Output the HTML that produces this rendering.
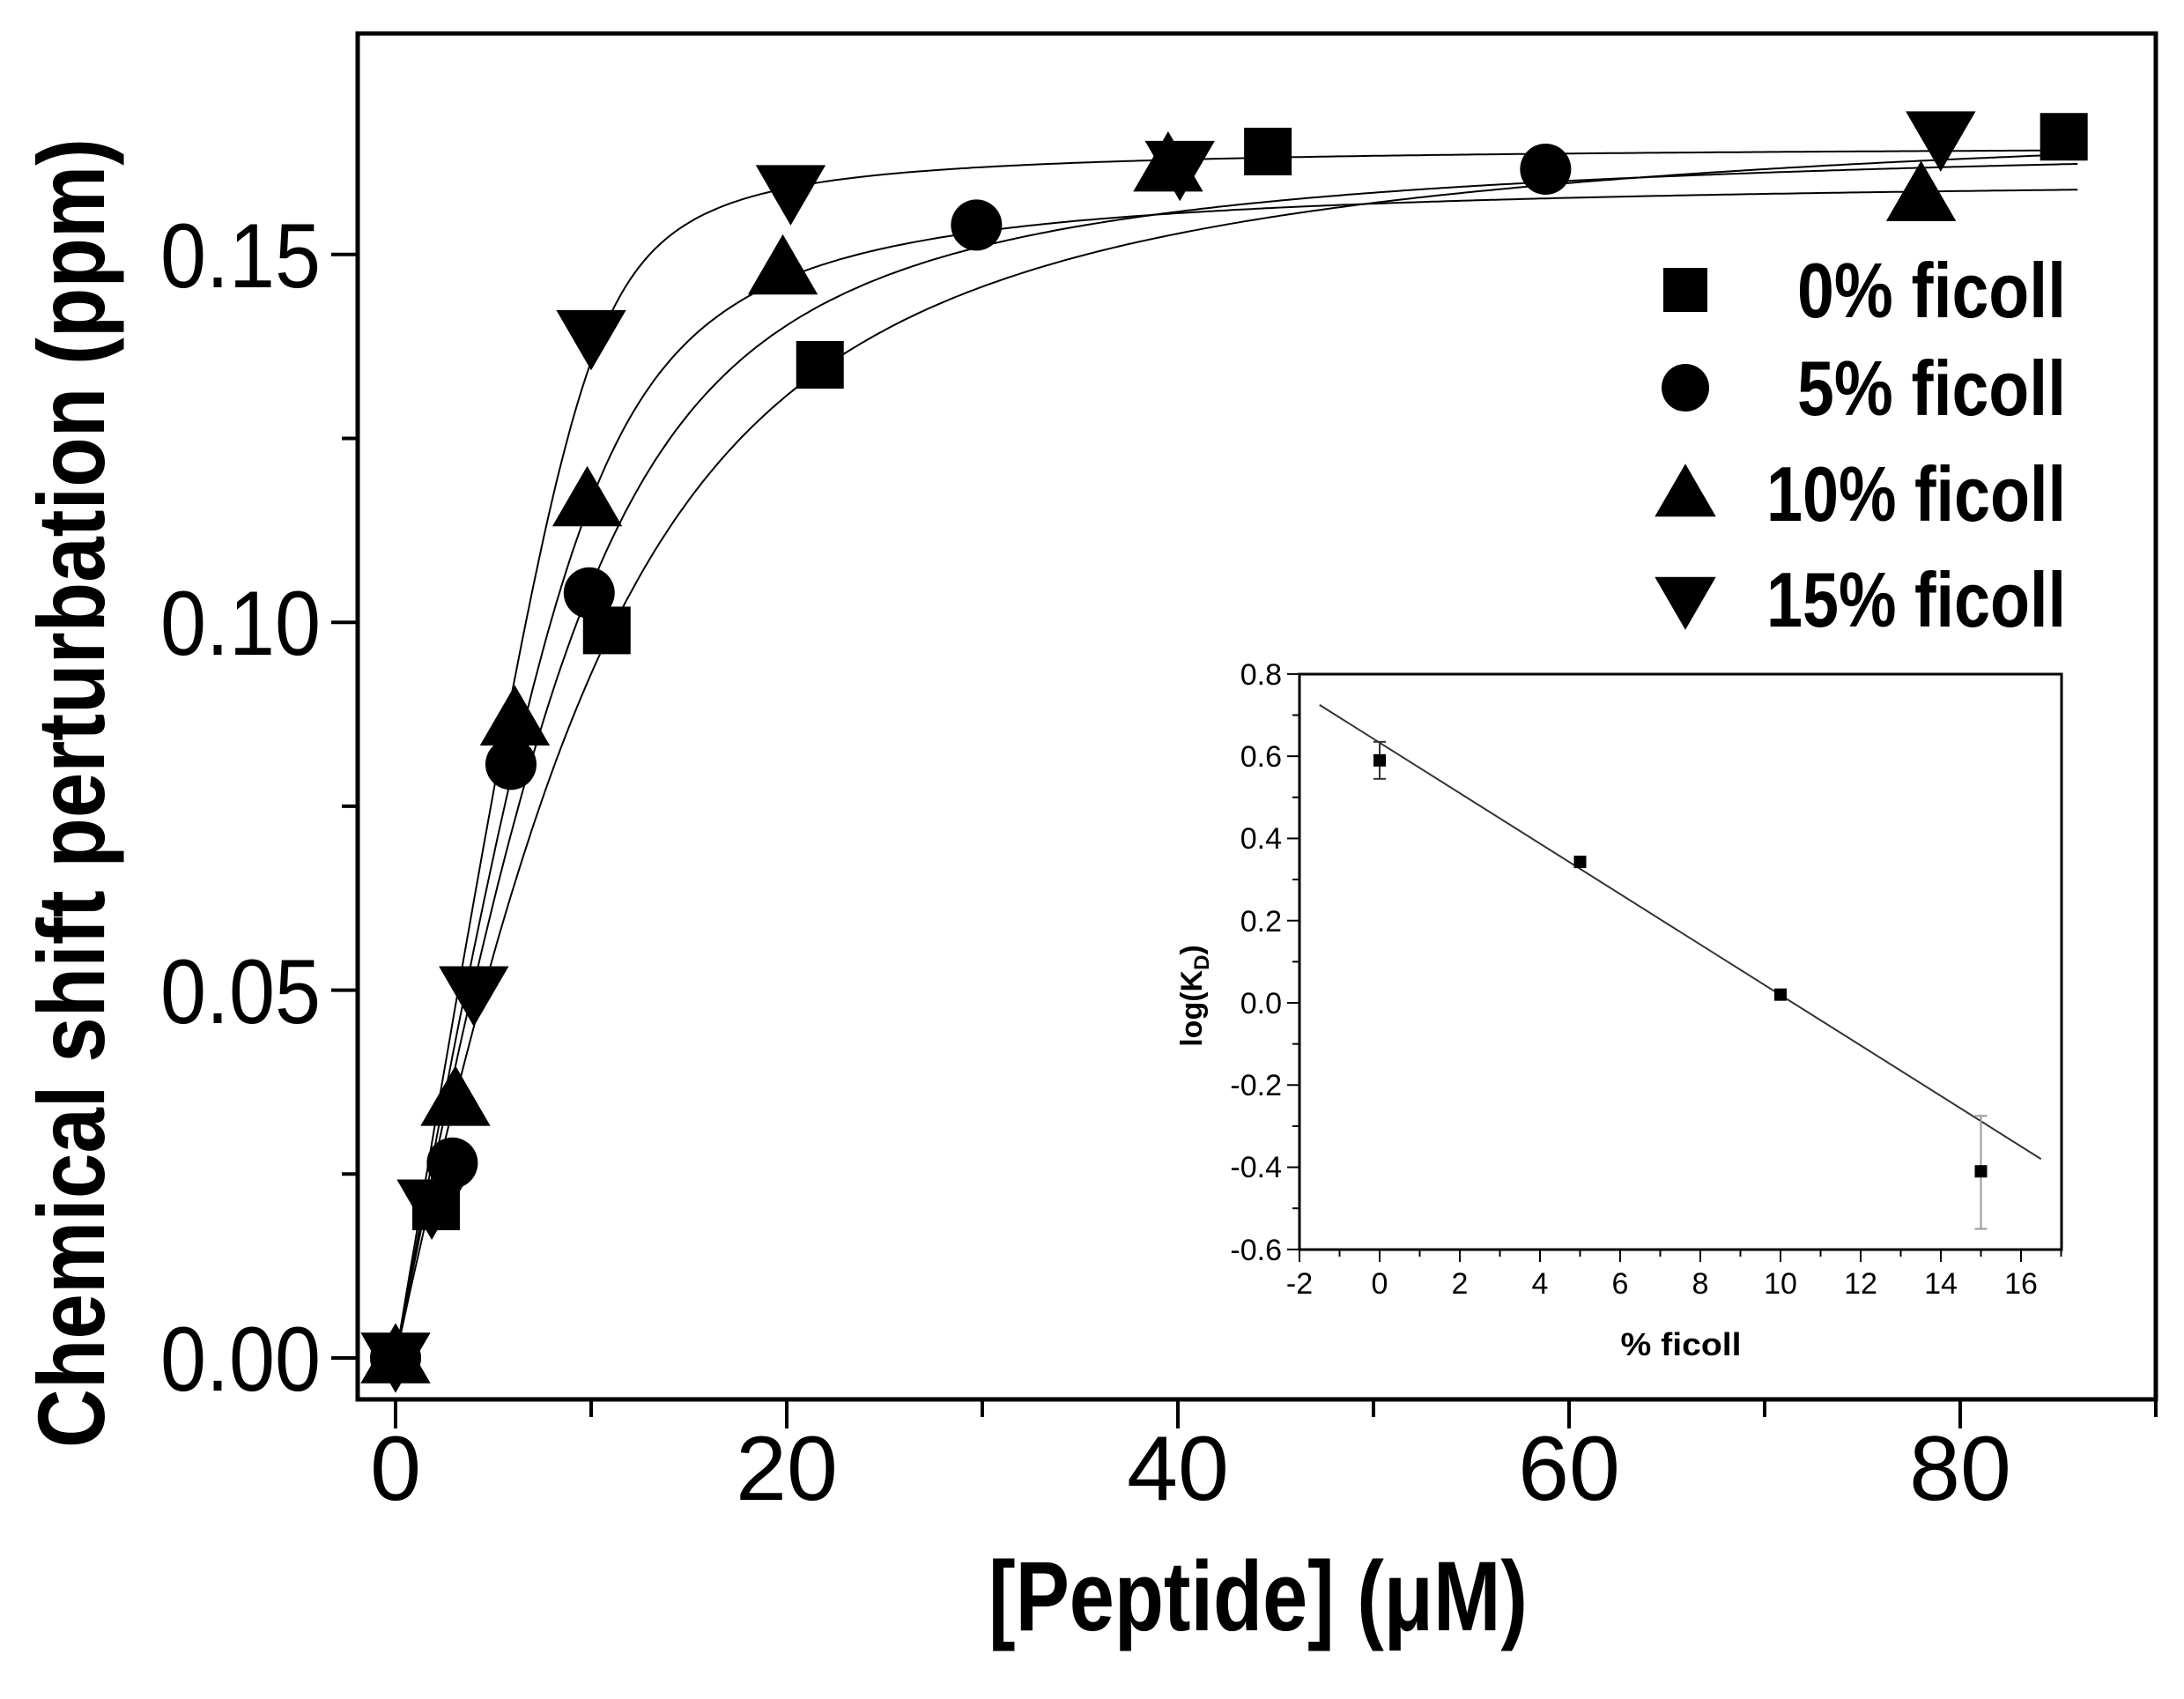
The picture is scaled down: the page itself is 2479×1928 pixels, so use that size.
<!DOCTYPE html>
<html><head><meta charset="utf-8"><style>
html,body{margin:0;padding:0;background:#fff;}
svg{display:block;}
text{font-family:"Liberation Sans Narrow","Liberation Sans",sans-serif;fill:#000;}
.b{font-family:"Liberation Sans",sans-serif;font-weight:bold;}
</style></head><body>
<svg id="s" width="2479" height="1928" viewBox="0 0 2479 1928" xmlns="http://www.w3.org/2000/svg">
<rect width="2479" height="1928" fill="#fff"/>
<g id="g"></g>
<rect x="406" y="38" width="2041" height="1550" fill="none" stroke="#000" stroke-width="5"/>
<g font-size="104">
<text x="449" y="1702" text-anchor="middle">0</text>
<text x="893" y="1702" text-anchor="middle">20</text>
<text x="1337" y="1702" text-anchor="middle">40</text>
<text x="1781" y="1702" text-anchor="middle">60</text>
<text x="2225" y="1702" text-anchor="middle">80</text>
<text id="t1" x="364" y="1578" text-anchor="end">0.00</text>
<text id="t2" x="364" y="1161" text-anchor="end">0.05</text>
<text id="t3" x="364" y="743" text-anchor="end">0.10</text>
<text id="t4" x="364" y="326" text-anchor="end">0.15</text>
</g>
<text id="xt" class="b" x="1428" y="1850" font-size="112" text-anchor="middle">[Peptide] (μM)</text>
<text id="yt" class="b" x="0" y="0" font-size="108" text-anchor="middle" transform="translate(118,900) rotate(-90)">Chemical shift perturbation (ppm)</text>
<g class="b" font-size="88">
<text id="l1" class="b" x="2345" y="360" text-anchor="end">0% ficoll</text>
<text id="l2" class="b" x="2345" y="471" text-anchor="end">5% ficoll</text>
<text id="l3" class="b" x="2345" y="591" text-anchor="end">10% ficoll</text>
<text id="l4" class="b" x="2345" y="711" text-anchor="end">15% ficoll</text>
</g>
<rect x="1475" y="765" width="865" height="653" fill="#fff" stroke="#000" stroke-width="3"/>
<g id="ins"></g>
<g font-size="34">
<text x="1475" y="1468" text-anchor="middle">-2</text>
<text x="1566" y="1468" text-anchor="middle">0</text>
<text x="1657" y="1468" text-anchor="middle">2</text>
<text x="1748" y="1468" text-anchor="middle">4</text>
<text x="1839" y="1468" text-anchor="middle">6</text>
<text x="1930" y="1468" text-anchor="middle">8</text>
<text x="2021" y="1468" text-anchor="middle">10</text>
<text x="2112" y="1468" text-anchor="middle">12</text>
<text x="2203" y="1468" text-anchor="middle">14</text>
<text x="2294" y="1468" text-anchor="middle">16</text>
<text x="1455" y="777" text-anchor="end">0.8</text>
<text x="1455" y="870" text-anchor="end">0.6</text>
<text x="1455" y="963" text-anchor="end">0.4</text>
<text x="1455" y="1057" text-anchor="end">0.2</text>
<text x="1455" y="1150" text-anchor="end">0.0</text>
<text x="1455" y="1243" text-anchor="end">-0.2</text>
<text x="1455" y="1336" text-anchor="end">-0.4</text>
<text x="1455" y="1430" text-anchor="end">-0.6</text>
</g>
<text id="it" class="b" x="1908" y="1538" font-size="36" text-anchor="middle">% ficoll</text>
<text class="b" x="0" y="0" font-size="34" text-anchor="middle" transform="translate(1364,1130) rotate(-90)">log(K<tspan font-size="24" dy="8">D</tspan><tspan dy="-8">)</tspan></text>
</svg>
<script>
var NS="http://www.w3.org/2000/svg",g=document.getElementById('g'),ins=document.getElementById('ins');
function el(p,t,a){var e=document.createElementNS(NS,t);for(var k in a)e.setAttribute(k,a[k]);p.appendChild(e);return e;}
function fit(id,w){var e=document.getElementById(id);e.setAttribute('textLength',w);e.setAttribute('lengthAdjust','spacingAndGlyphs');}
fit('xt',612);fit('yt',1486);fit('l1',305);fit('l2',305);fit('l3',340);fit('l4',340);fit('it',137);
['t1','t2','t3','t4'].forEach(function(i){fit(i,182);});
var X=function(v){return 449+v*22.2},Y=function(v){return 1541-v*8348};
for(var i=0;i<=9;i++){var x=X(i*10);el(g,'line',{x1:x,x2:x,y1:1588,y2:i%2?1608:1621,stroke:'#000','stroke-width':4});}
for(var i=0;i<=6;i++){var y=Y(i*0.025);el(g,'line',{x1:406,x2:i%2?388:376,y1:y,y2:y,stroke:'#000','stroke-width':4});}
var P=10,sets=[[3.9,0.172],[2.2,0.167],[1.05,0.161],[0.39,0.165]];
sets.forEach(function(s){var d='';for(var L=0;L<=86;L+=0.25){var a=P+L+s[0];var f=(a-Math.sqrt(a*a-4*P*L))/(2*P);d+=(L?'L':'M')+X(L).toFixed(1)+' '+Y(s[1]*f).toFixed(1);}el(g,'path',{d:d,fill:'none',stroke:'#000','stroke-width':2});});
function sq(x,y,s){el(g,'rect',{x:x-s/2,y:y-s/2,width:s,height:s,fill:'#000'});}
function ci(x,y,s){el(g,'circle',{cx:x,cy:y,r:s/2,fill:'#000'});}
function tu(x,y,s){el(g,'polygon',{points:(x-s*0.62)+','+(y+s*0.45)+' '+(x+s*0.62)+','+(y+s*0.45)+' '+x+','+(y-s*0.62),fill:'#000'});}
function td(x,y,s){el(g,'polygon',{points:(x-s*0.62)+','+(y-s*0.45)+' '+(x+s*0.62)+','+(y-s*0.45)+' '+x+','+(y+s*0.62),fill:'#000'});}
var d0=[[0,0],[2.07,0.0206],[10.8,0.0989],[21.7,0.135],[44.6,0.164],[85.3,0.166]];
var d1=[[0,0],[2.9,0.0265],[5.9,0.0807],[9.9,0.104],[29.7,0.154],[58.8,0.1616]];
var d2=[[0,0],[3.06,0.035],[6.1,0.0867],[9.8,0.1165],[19.8,0.148],[39.5,0.162],[78,0.158]];
var d3=[[0,0],[1.85,0.0208],[4,0.0498],[10,0.139],[20.2,0.1587],[40.1,0.162],[79,0.166]];
d0.forEach(function(p){sq(X(p[0]),Y(p[1]),54)});
d1.forEach(function(p){ci(X(p[0]),Y(p[1]),58)});
d2.forEach(function(p){tu(X(p[0]),Y(p[1]),64)});
d3.forEach(function(p){td(X(p[0]),Y(p[1]),64)});
sq(1913,329,50);ci(1913,440,54);tu(1913,561,56);td(1913,680,56);
var IX=function(v){return 1566+v*45.5},IY=function(v){return 1138-v*466.4};
for(var i=-2;i<=17;i++){var x=IX(i);el(ins,'line',{x1:x,x2:x,y1:1418,y2:i%2?1426:1432,stroke:'#000','stroke-width':2});}
for(var i=-6;i<=8;i++){var y=IY(i/10);el(ins,'line',{x1:1475,x2:i%2?1467:1461,y1:y,y2:y,stroke:'#000','stroke-width':2});}
el(ins,'line',{x1:IX(-1.5),y1:IY(0.725),x2:IX(16.5),y2:IY(-0.38),stroke:'#333','stroke-width':2});
[[0,0.59,0.545,0.635,'#333'],[5,0.343,0.33,0.356,'#333'],[10,0.02,0.012,0.028,'#333'],[15,-0.41,-0.55,-0.275,'#999']].forEach(function(p){
 var x=IX(p[0]);el(ins,'line',{x1:x,x2:x,y1:IY(p[2]),y2:IY(p[3]),stroke:p[4],'stroke-width':2});
 el(ins,'line',{x1:x-7,x2:x+7,y1:IY(p[2]),y2:IY(p[2]),stroke:p[4],'stroke-width':2});
 el(ins,'line',{x1:x-7,x2:x+7,y1:IY(p[3]),y2:IY(p[3]),stroke:p[4],'stroke-width':2});
 el(ins,'rect',{x:x-7,y:IY(p[1])-7,width:14,height:14,fill:'#000'});});
</script>
</body></html>
